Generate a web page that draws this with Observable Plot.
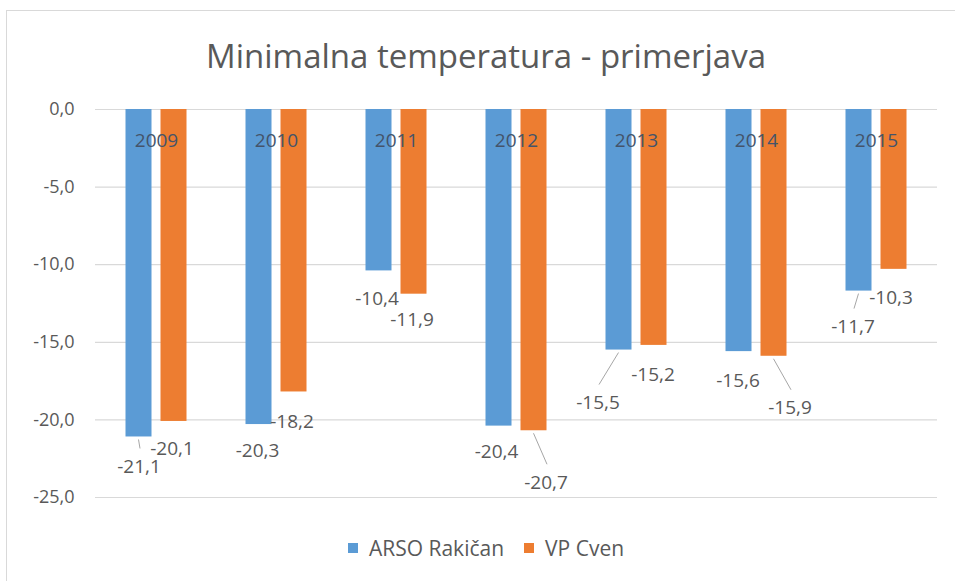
<!DOCTYPE html>
<html><head><meta charset="utf-8">
<script src="https://cdn.jsdelivr.net/npm/d3@7"></script>
<script src="https://cdn.jsdelivr.net/npm/@observablehq/plot@0.6"></script>
<style>
body{margin:0;background:#fff;font-family:"Open Sans",sans-serif;}
#wrap{position:relative;width:955px;height:581px;overflow:hidden;background:#fff;}
#frame{position:absolute;left:6px;top:10px;width:980px;height:620px;border:1px solid #d9d9d9;}
#title{position:absolute;left:6px;width:960px;top:33px;text-align:center;font-size:33px;color:#595959;line-height:46px;white-space:nowrap;}
#chart{position:absolute;left:0;top:90px;}
#legend{position:absolute;top:533px;left:6px;width:960px;display:flex;justify-content:center;align-items:center;gap:20px;font-size:21px;color:#595959;line-height:30px;}
#legend .item{display:flex;align-items:center;gap:11px;}
#legend .sw{width:10px;height:10px;display:inline-block;}
</style>
</head><body>
<div id="wrap">
  <div id="frame"></div>
  <div id="title">Minimalna temperatura - primerjava</div>
  <div id="chart"></div>
  <div id="legend"></div>
</div>
<script>
// ---- data ----
const years = ["2009", "2010", "2011", "2012", "2013", "2014", "2015"];
const seriesNames = ["ARSO Rakičan", "VP Cven"];
const arsoValues = [-21.1, -20.3, -10.4, -20.4, -15.5, -15.6, -11.7];
const vpValues = [-20.1, -18.2, -11.9, -20.7, -15.2, -15.9, -10.3];
const yTicks = [0, -5, -10, -15, -20, -25];

// ---- layout / style (kept apart from the data) ----
const colors = ["#5B9BD5", "#ED7D31"];
const seriesShift = [-17.5, 17.5];
// manual data-label nudges (px) as placed in the original chart
const arsoLabelNudge = [[0, 30], [-1.5, 26], [-2, 28], [-2.5, 26], [-21, 53], [-1, 29], [-6, 36]];
const vpLabelNudge = [[-2, 27], [-2, 30], [-2, 26], [12, 52], [-1, 30], [16, 52], [-3, 29]];
const arsoLeader = [true, false, false, false, true, false, true];
const vpLeader = [false, false, false, true, false, true, false];

const fmt = v => v.toFixed(1).replace(".", ",");

const series = [
  {name: seriesNames[0], values: arsoValues, nudge: arsoLabelNudge, leader: arsoLeader},
  {name: seriesNames[1], values: vpValues, nudge: vpLabelNudge, leader: vpLeader}
];
const table = series.map((s, si) => years.map((year, i) => ({
  year, value: s.values[i], series: s.name, si, i,
  ndx: s.nudge[i][0], ndy: s.nudge[i][1], leader: s.leader[i]
})));

const labelFont = 19;
const marks = [
  Plot.ruleY(yTicks, {stroke: "#d9d9d9", strokeWidth: 1.2}),
  Plot.axisY(yTicks, {tickSize: 0, tickPadding: 21, tickFormat: fmt, fontSize: 18, label: null}),
];
table.forEach((rows, si) => {
  marks.push(Plot.barY(rows, {x: "year", y1: 0, y2: "value", fill: colors[si], dx: seriesShift[si]}));
});
marks.push(Plot.text(years, {x: d => d, y: 0, dy: 31, text: d => d, fill: "#44546a", fontSize: 19}));
// leader lines
marks.push((index, scales, values, dimensions) => {
  const x = scales.x, y = scales.y;
  const bw = typeof x.bandwidth === "function" ? x.bandwidth() : (x.bandwidth || 0);
  const g = d3.create("svg:g").attr("stroke", "#a6a6a6").attr("stroke-width", 1);
  table.flat().filter(d => d.leader).forEach(d => {
    const cx = x(d.year) + bw / 2 + seriesShift[d.si];
    const yb = y(d.value);
    g.append("line")
      .attr("x1", cx).attr("y1", yb + 3)
      .attr("x2", cx + d.ndx + 1.5).attr("y2", yb + d.ndy - 18);
  });
  return g.node();
});
table.flat().forEach(d => {
  marks.push(Plot.text([d], {
    x: "year", y: "value", text: r => fmt(r.value),
    dx: seriesShift[d.si] + d.ndx, dy: d.ndy, fill: "#595959", fontSize: labelFont
  }));
});

const chart = Plot.plot({
  width: 955,
  height: 430,
  marginLeft: 95,
  marginRight: 18,
  marginTop: 19,
  marginBottom: 23,
  style: {fontFamily: "'Open Sans', sans-serif", color: "#595959", background: "transparent"},
  x: {domain: years, paddingInner: 0.7846, paddingOuter: 0.392, axis: null},
  y: {domain: [-25, 0], axis: null},
  marks
});
document.getElementById("chart").appendChild(chart);

const legend = document.getElementById("legend");
seriesNames.forEach((n, i) => {
  const item = document.createElement("span");
  item.className = "item";
  const sw = document.createElement("span");
  sw.className = "sw";
  sw.style.background = colors[i];
  const t = document.createElement("span");
  t.textContent = n;
  item.appendChild(sw); item.appendChild(t);
  legend.appendChild(item);
});
</script>
</body></html>
